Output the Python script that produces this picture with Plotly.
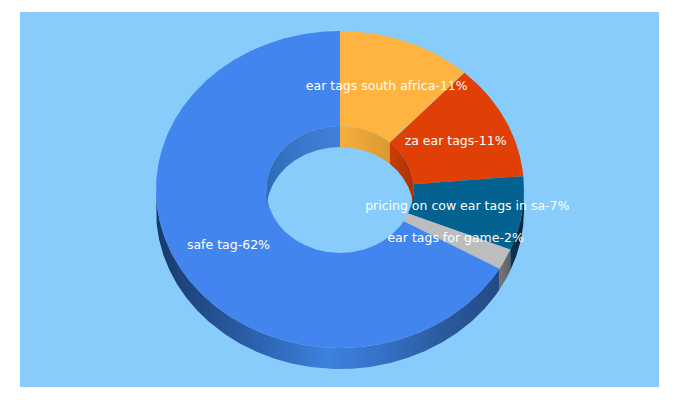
import numpy as np
import plotly.graph_objects as go

labels = ["ear tags south africa", "za ear tags", "pricing on cow ear tags in sa", "ear tags for game", "safe tag"]
percents = [11, 11, 7, 2, 62]
face_colors = ["#FFB441", "#E04006", "#03628F", "#BDBDBD", "#4285EE"]

# shading of the side walls, left to right
outer_wall_colors = [
    ["#E0A038", "#E0A038"],
    ["#A83005", "#A83005"],
    ["#0A3552", "#02263E"],
    ["#787878", "#5E5E5E"],
    ["#173A6B", "#245090", "#2F68B8", "#3C82E0", "#3570C4", "#2A5A9E", "#234A86"],
]
inner_wall_colors = [
    ["#F7AF3E", "#D99A30"],
    ["#CC3C05", "#AA3205"],
    ["#024A70", "#024A70"],
    ["#888888", "#888888"],
    ["#2E6CB8", "#3A78CC", "#3F80DC"],
]

# ellipse geometry, in pixels around the centre of the ring
RX = 184
RY = 158.5
HOLE = 0.4
DEPTH = 21
LABEL_DROP = 1


def arc(start, end, scale, drop=0):
    t = np.radians(np.linspace(start, end, max(int(abs(end - start) * 2), 2)))
    return scale * RX * np.sin(t), scale * RY * np.cos(t) - drop


def add_poly(fig, x, y, colors):
    x = list(x) + [x[0]]
    y = list(y) + [y[0]]
    trace = dict(x=x, y=y, mode="lines", line=dict(width=0), fill="toself", hoverinfo="skip")
    if len(colors) == 1:
        trace["fillcolor"] = colors[0]
    else:
        scale = [[i / (len(colors) - 1), c] for i, c in enumerate(colors)]
        trace["fillgradient"] = dict(type="horizontal", colorscale=scale)
    fig.add_trace(go.Scatter(**trace))


def add_wall(fig, start, end, scale, low, high, colors):
    # only the part of the wall that faces the viewer
    a, b = max(start, low), min(end, high)
    if a >= b:
        return
    x1, y1 = arc(a, b, scale)
    x2, y2 = arc(b, a, scale, DEPTH)
    add_poly(fig, np.r_[x1, x2], np.r_[y1, y2], colors)


shares = np.array(percents) / sum(percents) * 360
ends = np.cumsum(shares)
starts = ends - shares
mids = (starts + ends) / 2

fig = go.Figure()

for i in range(len(labels)):
    add_wall(fig, starts[i], ends[i], 1, 90, 270, outer_wall_colors[i])

for i in range(len(labels)):
    x1, y1 = arc(starts[i], ends[i], 1)
    x2, y2 = arc(ends[i], starts[i], HOLE)
    add_poly(fig, np.r_[x1, x2], np.r_[y1, y2], [face_colors[i]])

for i in range(len(labels)):
    add_wall(fig, starts[i], ends[i], HOLE, -90, 90, inner_wall_colors[i])
    add_wall(fig, starts[i] - 360, ends[i] - 360, HOLE, -90, 90, inner_wall_colors[i])

ring = (1 + HOLE) / 2
fig.add_trace(go.Scatter(
    x=ring * RX * np.sin(np.radians(mids)),
    y=ring * RY * np.cos(np.radians(mids)) - LABEL_DROP,
    text=[f"{l}-{p}%" for l, p in zip(labels, percents)],
    mode="text",
    textposition="middle center",
    textfont=dict(family="DejaVu Sans", size=12.5, color="white"),
    hoverinfo="skip",
    cliponaxis=False,
))

fig.update_xaxes(range=[-320, 319], visible=False)
fig.update_yaxes(range=[-197.5, 177.5], visible=False)
fig.update_layout(
    width=680, height=400,
    margin=dict(l=20, r=21, t=12, b=13),
    paper_bgcolor="white",
    plot_bgcolor="#87CCFA",
    showlegend=False,
)
fig.write_html("out.html", config=dict(displayModeBar=False), post_script="document.body.style.margin='0';")
